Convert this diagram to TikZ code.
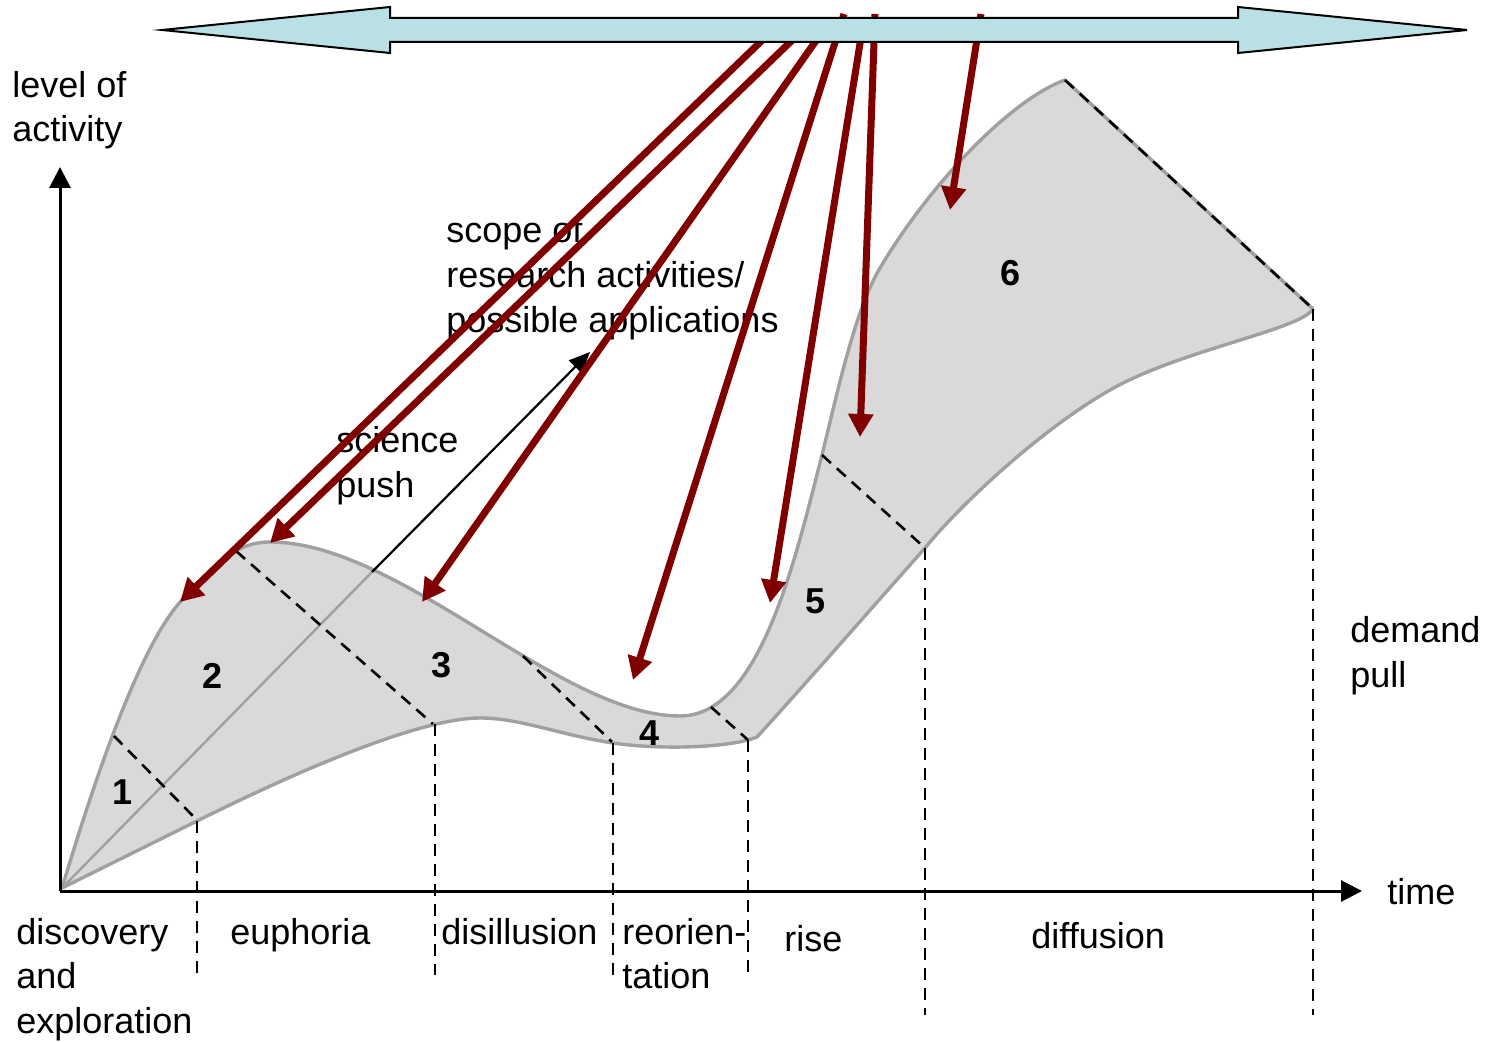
\documentclass[tikz,border=0pt]{standalone}
\usepackage{fontspec}
\setmainfont{Liberation Sans}
\usetikzlibrary{arrows.meta}
\definecolor{barfill}{RGB}{185,224,228}
\definecolor{redarrow}{RGB}{128,0,0}
\definecolor{areafill}{RGB}{217,217,217}
\definecolor{areaedge}{RGB}{160,160,160}

\begin{document}
\begin{tikzpicture}[x=0.5pt,y=-0.5pt,
  lbl/.style={inner sep=0pt, anchor=base west, font=\fontsize{18}{22}\selectfont},
  num/.style={inner sep=0pt, font=\bfseries\fontsize{18}{22}\selectfont},
  axis/.style={line width=1.5pt, -{Triangle[length=10.5pt,width=10.5pt]}},
  phase/.style={line width=1.3pt, dash pattern=on 6pt off 4pt},
  pullarrow/.style={redarrow, line width=3.5pt, -{Triangle[length=11.5pt,width=12pt]}},
  rim/.style={draw=areaedge, line width=1.7pt}]
\useasboundingbox (0,0) rectangle (1494,1042);

% key points of the activity band
\coordinate (O) at (62,888);
\coordinate (top) at (1065,80);
\coordinate (right) at (1313,309);
\coordinate (kink) at (757,737);

% shaded band between the upper and lower activity curves
\path[fill=areafill, rim, line join=round]
  (O) .. controls (85,812) and (135,650) .. (182,600)
      .. controls (215,565) and (235,542) .. (270,542)
      .. controls (400,542) and (560,716) .. (680,716)
      .. controls (760,716) and (795,560) .. (822,455)
      .. controls (838,390) and (855,310) .. (880,268)
      .. controls (930,184) and (1010,100) .. (top)
  -- (right)
      .. controls (1300,330) and (1180,350) .. (1110,390)
      .. controls (1040,430) and (960,505) .. (925,548)
      .. controls (870,610) and (800,690) .. (kink)
      .. controls (730,748) and (660,750) .. (613,743)
      .. controls (560,735) and (520,718) .. (480,718)
      .. controls (430,718) and (330,755) .. (197,821)
  -- cycle;

% science push line, grey inside the band
\coordinate (P) at (372,572);
\coordinate (Ptip) at (590,352);
\draw[areaedge, line width=1.2pt] (O) -- (P);

% phase boundaries across the band
\coordinate (a1) at (114,736);  \coordinate (b1) at (195,818);
\coordinate (a2) at (236,551);  \coordinate (b2) at (433,724);
\coordinate (a3) at (523,656);  \coordinate (b3) at (612,742);
\coordinate (a4) at (711,707);  \coordinate (b4) at (748,740);
\coordinate (a5) at (822,455);  \coordinate (b5) at (925,548);
\draw[phase] (a1) -- (b1);
\draw[phase] (a2) -- (b2);
\draw[phase] (a3) -- (b3);
\draw[phase] (a4) -- (b4);
\draw[phase] (a5) -- (b5);
\draw[phase] (top) -- (right);

% phase boundaries down to the time axis
\coordinate (u1) at (197,821);   \coordinate (v1) at (197,975);
\coordinate (u2) at (435,724);   \coordinate (v2) at (435,975);
\coordinate (u3) at (613,743);   \coordinate (v3) at (613,975);
\coordinate (v4) at (748,975);
\coordinate (v5) at (925,1015);
\coordinate (v6) at (1313,1015);
\draw[phase] (u1) -- (v1);
\draw[phase] (u2) -- (v2);
\draw[phase] (u3) -- (v3);
\draw[phase] (b4) -- (v4);
\draw[phase] (b5) -- (v5);
\draw[phase] (right) -- (v6);

% axes
\coordinate (origin) at (60,891);
\coordinate (ytip) at (60,167);
\coordinate (xtip) at (1362,891);
\draw[axis] (origin) -- (ytip);
\draw[axis] (origin) -- (xtip);

% phase numbers
\node[num] (n1) at (123,792) {1};
\node[num] (n2) at (213,676) {2};
\node[num] (n3) at (442,665) {3};
\node[num] (n4) at (650,733) {4};
\node[num] (n5) at (816,601) {5};
\node[num] (n6) at (1010,273) {6};

% labels
\node[lbl] (lv1) at (12,98) {level of};
\node[lbl] (lv2) at (12,142) {activity};
\node[lbl] (sc1) at (446,243) {scope of};
\node[lbl] (sc2) at (446,288) {research activities/};
\node[lbl] (sc3) at (446,333) {possible applications};
\node[lbl] (sp1) at (336,453) {science};
\node[lbl] (sp2) at (336,498) {push};
\node[lbl] (dp1) at (1350,643) {demand};
\node[lbl] (dp2) at (1350,688) {pull};
\node[lbl] (tm) at (1387,904) {time};
\node[lbl] (ph1a) at (16,944) {discovery};
\node[lbl] (ph1b) at (16,988) {and};
\node[lbl] (ph1c) at (16,1033) {exploration};
\node[lbl] (ph2) at (230,944) {euphoria};
\node[lbl] (ph3) at (441,944) {disillusion};
\node[lbl] (ph4a) at (622,944) {reorien-};
\node[lbl] (ph4b) at (622,988) {tation};
\node[lbl] (ph5) at (784,951) {rise};
\node[lbl] (ph6) at (1031,948) {diffusion};

% science push arrow
\draw[line width=1.1pt, -{Triangle[length=10.5pt,width=9pt]}] (P) -- (Ptip);

% research activities reaching the curve
\coordinate (s1) at (778,25);  \coordinate (t1) at (180,602);
\coordinate (s2) at (808,25);  \coordinate (t2) at (270,543);
\coordinate (s3) at (827,25);  \coordinate (t3) at (422,602);
\coordinate (s4) at (844,14);  \coordinate (t4) at (633,680);
\coordinate (s5) at (863,25);  \coordinate (t5) at (770,603);
\coordinate (s6) at (875,14);  \coordinate (t6) at (860,437);
\coordinate (s7) at (981,14);  \coordinate (t7) at (950,210);
\foreach \i in {1,...,7} \draw[pullarrow] (s\i) -- (t\i);

% double-headed bar along the top
\draw[fill=barfill, line width=1pt, line join=miter]
  (162,30) -- (390,7) -- (390,18) -- (1238,18) -- (1238,7) -- (1467,30)
  -- (1238,53) -- (1238,42) -- (390,42) -- (390,53) -- cycle;
\end{tikzpicture}
\end{document}
